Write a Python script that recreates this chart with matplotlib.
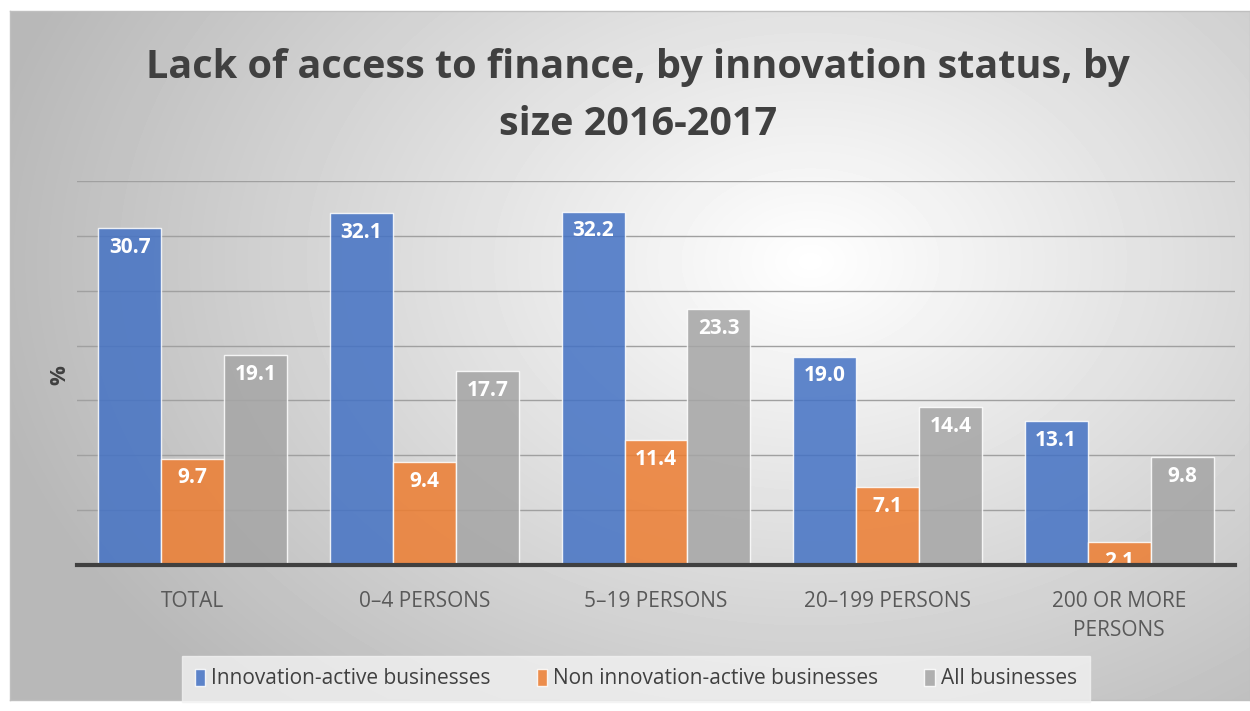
import matplotlib.pyplot as plt
import numpy as np

# share of businesses reporting lack of access to finance (%)
categories = ["TOTAL", "0–4 PERSONS", "5–19 PERSONS", "20–199 PERSONS", "200 OR MORE\nPERSONS"]
innovation_active = [30.7, 32.1, 32.2, 19.0, 13.1]
non_innovation_active = [9.7, 9.4, 11.4, 7.1, 2.1]
all_businesses = [19.1, 17.7, 23.3, 14.4, 9.8]
series_names = ["Innovation-active businesses", "Non innovation-active businesses", "All businesses"]

colors = ["#4472C4", "#ED7D31", "#A5A5A5"]
plt.rcParams["font.family"] = ["Open Sans", "DejaVu Sans"]

fig = plt.figure(figsize=(12.5, 7.11), dpi=100)

# radial grey-to-white background of the chart area
bg = fig.add_axes([10 / 1250, 11 / 711, 1240 / 1250, 689 / 711])
yy, xx = np.mgrid[0:689, 0:1240]
r = np.sqrt(((xx - 800) / 900) ** 2 + ((yy - 250) / 650) ** 2)
shade = np.clip(1.0 - 0.3 * r, 0.72, 1.0)
bg.imshow(shade, cmap="gray", vmin=0, vmax=1, aspect="auto", interpolation="bilinear")
bg.set_xticks([])
bg.set_yticks([])
for s in bg.spines.values():
    s.set_color("#bfbfbf")
    s.set_linewidth(1)

ax = fig.add_axes([77 / 1250, 1 - 565 / 711, 1158 / 1250, (565 - 181) / 711])
ax.patch.set_alpha(0)

x = np.arange(len(categories))
w = 0.272
for i, (vals, c) in enumerate(zip([innovation_active, non_innovation_active, all_businesses], colors)):
    pos = x + (i - 1) * w
    ax.bar(pos, vals, w, color=c, alpha=0.85, edgecolor=(1, 1, 1, 0.6),
           linewidth=1, zorder=3, label=series_names[i])
    for p, v in zip(pos, vals):
        ax.text(p, v - 0.8, f"{v:.1f}", ha="center", va="top", color="white",
                fontsize=15, fontweight="bold", zorder=4)

ax.set_ylim(0, 35)
ax.set_xlim(-0.5, len(categories) - 0.5)
ax.set_yticks(np.arange(5, 36, 5))
ax.yaxis.grid(True, color="#a0a0a0", linewidth=1, zorder=1)
ax.tick_params(axis="y", length=0, labelleft=False)
ax.tick_params(axis="x", length=0, pad=19)
ax.set_xticks(x)
ax.set_xticklabels(categories, fontsize=15, color="#595959", linespacing=1.5)
for s in ["top", "right", "left"]:
    ax.spines[s].set_visible(False)
ax.spines["bottom"].set_color("#404040")
ax.spines["bottom"].set_linewidth(3)
ax.spines["bottom"].set_zorder(5)

fig.text(60 / 1250, 1 - 375 / 711, "%", rotation=90, ha="center", va="center",
         fontsize=16, fontweight="bold", color="#404040")

fig.text(638 / 1250, 1 - 96 / 711, "Lack of access to finance, by innovation status, by\nsize 2016-2017",
         ha="center", va="center", fontsize=28.5, fontweight="bold", color="#404040",
         linespacing=1.6)

leg = fig.legend(loc="center", bbox_to_anchor=(636 / 1250, 1 - 679 / 711), ncol=3,
                 frameon=True, fontsize=15, handlelength=0.5, handleheight=0.9,
                 columnspacing=2.2, handletextpad=0.3, borderpad=0.6, fancybox=False)
leg.get_frame().set_facecolor("#f2f2f2")
leg.get_frame().set_edgecolor("#f2f2f2")
for t in leg.get_texts():
    t.set_color("#404040")

fig.savefig("out.png", dpi=100)
